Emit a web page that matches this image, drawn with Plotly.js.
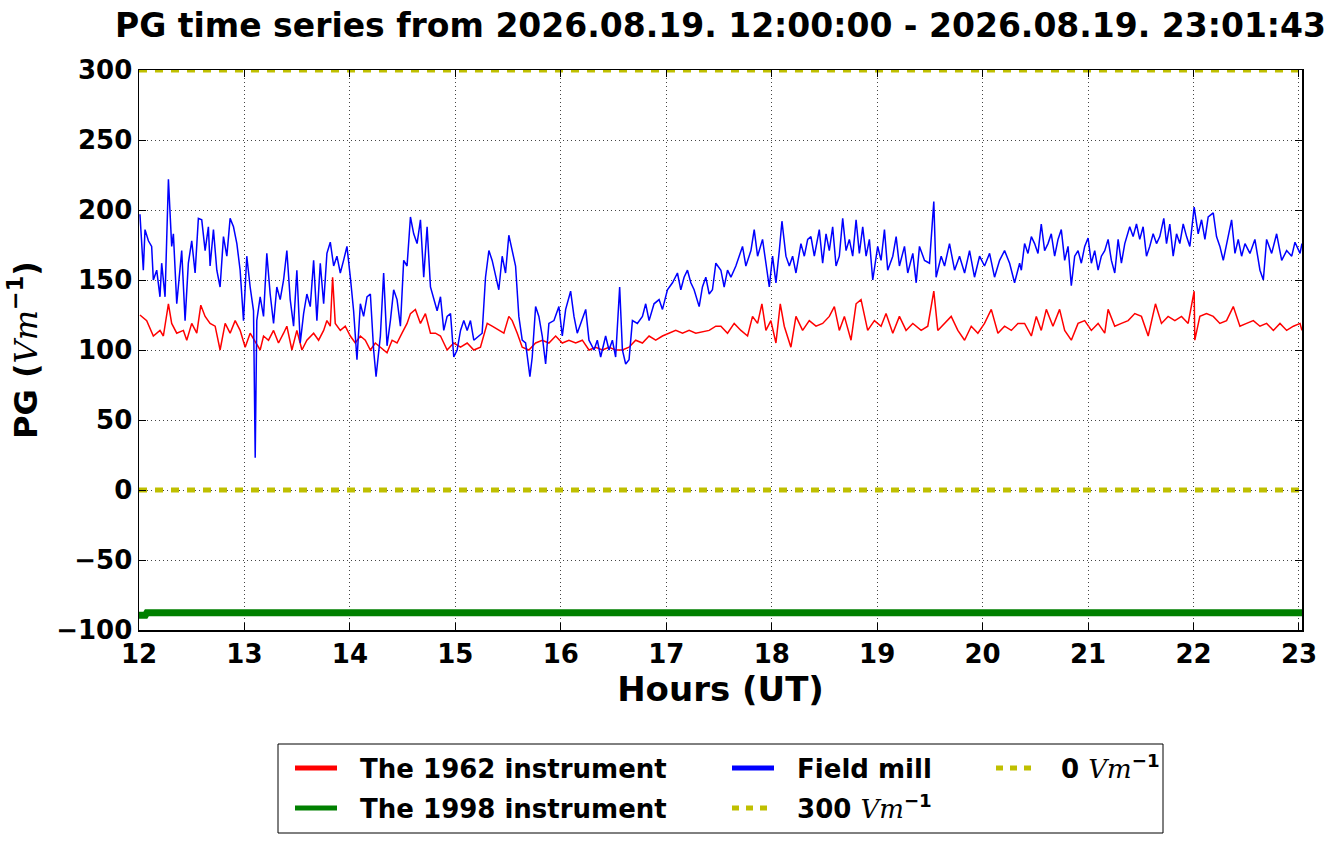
<!DOCTYPE html>
<html>
<head>
<meta charset="utf-8">
<script src="https://cdn.plot.ly/plotly-3.0.1.min.js"></script>
<style>html,body{margin:0;padding:0;background:#fff;}</style>
</head>
<body>
<div id="chart" style="width:1341px;height:844px;"></div>
<script>
// ---- data (hours UT, PG in V/m) ----
var fieldMill = [
[12.009,197],[12.041,157],[12.057,186],[12.089,178],[12.120,174],[12.136,150],[12.168,157],[12.199,138],[12.215,162],[12.247,138],
[12.279,222],[12.310,174],[12.326,183],[12.358,133],[12.405,171],[12.437,121],[12.468,162],[12.500,178],[12.532,155],[12.563,194],
[12.595,193],[12.627,171],[12.658,188],[12.674,160],[12.706,186],[12.738,157],[12.769,145],[12.801,181],[12.833,167],[12.864,194],
[12.896,188],[12.928,176],[12.959,157],[12.991,121],[13.022,167],[13.054,145],[13.086,128],[13.102,23],[13.117,121],[13.149,138],
[13.181,124],[13.212,169],[13.244,140],[13.276,119],[13.307,145],[13.339,136],[13.371,150],[13.402,171],[13.434,136],[13.466,117],
[13.497,157],[13.529,105],[13.561,126],[13.592,140],[13.624,131],[13.656,164],[13.687,121],[13.719,162],[13.751,133],[13.782,169],
[13.814,177],[13.846,160],[13.877,167],[13.909,155],[13.940,164],[13.972,174],[14.004,152],[14.035,128],[14.067,93],[14.099,133],
[14.130,124],[14.162,138],[14.194,140],[14.225,100],[14.248,81],[14.289,110],[14.320,155],[14.352,103],[14.384,121],[14.415,143],
[14.447,136],[14.479,117],[14.510,164],[14.542,160],[14.574,195],[14.605,183],[14.637,176],[14.669,193],[14.700,152],[14.732,188],
[14.764,145],[14.795,136],[14.827,128],[14.859,138],[14.890,114],[14.922,124],[14.954,126],[14.985,95],[15.017,100],[15.049,114],
[15.080,121],[15.112,114],[15.143,121],[15.175,107],[15.223,110],[15.254,112],[15.286,152],[15.318,171],[15.349,164],[15.381,152],
[15.412,143],[15.444,167],[15.476,155],[15.507,182],[15.539,171],[15.571,160],[15.602,124],[15.634,107],[15.666,105],[15.707,81],
[15.729,95],[15.761,131],[15.792,124],[15.824,110],[15.856,90],[15.887,119],[15.935,121],[15.982,131],[16.014,110],[16.046,129],
[16.093,142],[16.125,124],[16.156,112],[16.188,119],[16.236,129],[16.267,107],[16.315,100],[16.346,107],[16.378,95],[16.425,110],
[16.457,100],[16.489,107],[16.520,95],[16.558,145],[16.584,100],[16.615,90],[16.647,93],[16.679,121],[16.726,119],[16.774,124],
[16.805,133],[16.837,121],[16.884,133],[16.932,136],[16.964,129],[17.011,143],[17.059,148],[17.106,155],[17.138,143],[17.169,152],
[17.201,157],[17.233,148],[17.264,143],[17.312,131],[17.343,145],[17.375,152],[17.407,140],[17.438,143],[17.470,162],[17.518,157],
[17.549,145],[17.581,157],[17.613,152],[17.660,160],[17.692,167],[17.723,174],[17.755,160],[17.803,171],[17.834,186],[17.866,167],
[17.913,179],[17.945,160],[17.977,145],[18.008,167],[18.040,148],[18.072,171],[18.097,192],[18.135,167],[18.167,160],[18.198,167],
[18.230,155],[18.277,176],[18.309,167],[18.341,179],[18.372,181],[18.404,167],[18.451,186],[18.483,162],[18.515,183],[18.546,171],
[18.578,188],[18.610,160],[18.641,167],[18.673,194],[18.705,171],[18.736,179],[18.768,167],[18.800,193],[18.831,169],[18.863,188],
[18.895,167],[18.926,179],[18.958,150],[19.005,174],[19.037,164],[19.069,186],[19.100,157],[19.148,167],[19.180,181],[19.211,160],
[19.259,174],[19.290,155],[19.338,169],[19.370,148],[19.401,174],[19.449,164],[19.496,162],[19.537,206],[19.559,152],[19.607,167],
[19.639,160],[19.686,176],[19.734,157],[19.781,167],[19.829,155],[19.876,171],[19.923,152],[19.971,167],[20.018,160],[20.066,169],
[20.113,152],[20.161,164],[20.208,171],[20.256,162],[20.303,148],[20.351,162],[20.367,157],[20.398,176],[20.430,169],[20.462,181],
[20.493,176],[20.525,169],[20.556,190],[20.588,171],[20.620,176],[20.651,183],[20.683,167],[20.715,179],[20.746,186],[20.778,164],
[20.810,174],[20.841,146],[20.873,167],[20.905,171],[20.936,162],[20.968,174],[21.000,180],[21.031,162],[21.063,171],[21.095,157],
[21.126,167],[21.158,171],[21.190,179],[21.221,164],[21.253,155],[21.285,179],[21.316,162],[21.348,176],[21.395,188],[21.427,181],
[21.459,190],[21.490,179],[21.522,188],[21.554,167],[21.585,174],[21.617,183],[21.649,176],[21.680,181],[21.718,194],[21.744,176],
[21.775,190],[21.807,167],[21.839,183],[21.870,176],[21.902,190],[21.934,181],[21.965,174],[22.006,202],[22.044,183],[22.076,193],
[22.108,179],[22.139,195],[22.187,198],[22.218,181],[22.250,174],[22.282,164],[22.313,176],[22.361,193],[22.393,169],[22.424,179],
[22.456,167],[22.488,176],[22.535,169],[22.582,179],[22.630,157],[22.662,150],[22.693,179],[22.741,169],[22.788,183],[22.836,164],
[22.883,171],[22.931,167],[22.962,177],[23.010,169],[23.028,176]
];

var instr1962 = [
[12.009,125],[12.073,121],[12.136,110],[12.199,114],[12.231,110],[12.279,133],[12.310,119],[12.358,112],[12.421,114],[12.453,107],
[12.500,119],[12.548,112],[12.586,132],[12.627,124],[12.674,119],[12.722,117],[12.769,100],[12.817,119],[12.864,112],[12.912,121],
[12.959,114],[13.007,102],[13.054,112],[13.102,106],[13.149,100],[13.181,110],[13.228,107],[13.276,114],[13.323,105],[13.371,112],
[13.402,117],[13.450,100],[13.497,114],[13.545,100],[13.592,107],[13.656,112],[13.703,107],[13.751,114],[13.782,121],[13.814,117],
[13.836,152],[13.861,119],[13.909,114],[13.956,117],[14.004,110],[14.051,105],[14.099,110],[14.146,107],[14.194,100],[14.241,105],
[14.289,102],[14.352,98],[14.400,107],[14.447,105],[14.494,112],[14.542,119],[14.574,126],[14.621,129],[14.669,119],[14.716,126],
[14.764,112],[14.811,112],[14.859,110],[14.922,100],[14.985,105],[15.049,102],[15.112,105],[15.175,100],[15.238,102],[15.302,119],
[15.349,117],[15.412,114],[15.460,112],[15.507,124],[15.539,121],[15.587,112],[15.634,102],[15.697,100],[15.761,105],[15.824,107],
[15.887,105],[15.951,110],[16.014,105],[16.077,107],[16.141,105],[16.204,107],[16.267,100],[16.331,102],[16.394,100],[16.457,102],
[16.520,100],[16.584,100],[16.647,102],[16.710,107],[16.774,105],[16.837,110],[16.900,107],[16.964,110],[17.027,112],[17.090,114],
[17.154,112],[17.217,114],[17.280,112],[17.343,113],[17.407,114],[17.470,117],[17.518,117],[17.581,112],[17.644,119],[17.708,114],
[17.771,110],[17.818,124],[17.866,119],[17.907,133],[17.945,114],[17.992,121],[18.040,105],[18.081,133],[18.119,117],[18.182,102],
[18.230,124],[18.293,114],[18.356,121],[18.420,117],[18.483,119],[18.546,124],[18.594,131],[18.641,114],[18.689,124],[18.752,107],
[18.800,133],[18.847,136],[18.910,114],[18.974,121],[19.037,117],[19.084,126],[19.148,112],[19.211,124],[19.274,114],[19.338,119],
[19.417,114],[19.480,117],[19.537,142],[19.575,114],[19.639,119],[19.702,124],[19.765,114],[19.829,107],[19.892,117],[19.955,112],
[20.018,119],[20.082,129],[20.145,112],[20.208,117],[20.272,114],[20.335,119],[20.398,119],[20.462,110],[20.509,124],[20.556,114],
[20.604,129],[20.667,117],[20.730,129],[20.778,114],[20.841,107],[20.905,119],[20.968,121],[21.031,114],[21.095,119],[21.158,112],
[21.190,129],[21.253,117],[21.316,119],[21.380,121],[21.443,126],[21.506,124],[21.570,110],[21.639,133],[21.696,119],[21.759,124],
[21.823,121],[21.886,124],[21.949,119],[22.006,142],[22.012,107],[22.060,124],[22.123,126],[22.187,124],[22.250,119],[22.313,121],
[22.377,131],[22.440,117],[22.503,119],[22.567,121],[22.630,117],[22.693,119],[22.757,114],[22.820,119],[22.883,114],[22.947,117],
[23.010,119],[23.028,114]
];

var instr1998Hours = [12.0, 12.06, 12.075, 23.03];
var instr1998Values = [-89.5, -89.5, -87.6, -87.6];

var refHours = [12.0, 23.03];
var ref300 = [300, 300];
var ref0 = [0, 0];

var xTicks = [12,13,14,15,16,17,18,19,20,21,22,23];
var yTicks = [-100,-50,0,50,100,150,200,250,300];
var xRange = [12.0, 23.0286];
var yRange = [-100, 300];

var VM = '<span style="font-family:DejaVu Serif;font-weight:normal;font-style:italic">Vm</span><sup>−1</sup>';
var PAD = '\u00a0\u00a0';
var legendNames = [PAD+'The 1962 instrument', PAD+'The 1998 instrument', PAD+'Field mill',
  PAD+'300 ' + VM, PAD+'0 ' + VM];

// ---- plot ----
var W = 1341, H = 844, mL = 139, mR = 39, mT = 70, mB = 214;
var pw = W - mL - mR, ph = H - mT - mB;
function px2paperX(x){ return (x - mL) / pw; }
function px2paperY(y){ return (H - mB - y) / ph; }

var YEL = '#bfbf00';
function col(a, i){ return a.map(function(p){ return p[i]; }); }

var traces = [
  {x: col(instr1962,0), y: col(instr1962,1), mode:'lines', line:{color:'#ff0000', width:1.5}, showlegend:false, hoverinfo:'skip'},
  {x: instr1998Hours, y: instr1998Values, mode:'lines', line:{color:'#008000', width:7}, showlegend:false, hoverinfo:'skip'},
  {x: col(fieldMill,0), y: col(fieldMill,1), mode:'lines', line:{color:'#0000ff', width:1.5}, showlegend:false, hoverinfo:'skip'},
  {x: refHours, y: ref300, mode:'lines', line:{color:YEL, width:5, dash:'8px,8px'}, showlegend:false, hoverinfo:'skip'},
  {x: refHours, y: ref0, mode:'lines', line:{color:YEL, width:5, dash:'8px,8px'}, showlegend:false, hoverinfo:'skip'}
];

var legColors = ['#ff0000','#008000','#0000ff',YEL,YEL];
var legDash = ['solid','solid','solid','7px,7px','7px,7px'];
var legIds = ['legend','legend2','legend3','legend4','legend5'];
var legPos = [[295,768],[295,808],[732,768],[732,808],[996,768]];
for (var i=0;i<5;i++){
  traces.push({x:[null], y:[null], mode:'lines', name: legendNames[i], legend: legIds[i],
    line:{color:legColors[i], width:5, dash:legDash[i]}, showlegend:true, hoverinfo:'skip'});
}

var baseFont = {family:'DejaVu Sans', size:26, color:'#000', weight:'bold'};

var layout = {
  width: W, height: H,
  margin: {l:mL, r:mR, t:mT, b:mB, pad:0},
  paper_bgcolor:'#fff', plot_bgcolor:'#fff',
  title: {text:'PG time series from 2026.08.19. 12:00:00 - 2026.08.19. 23:01:43',
    font:{family:'DejaVu Sans', size:33, color:'#000', weight:'bold'},
    x: 0.5, xref:'paper', xanchor:'center', y: 1 - 25/H, yref:'container', yanchor:'middle'},
  xaxis: {range: xRange, tickvals: xTicks, ticktext: xTicks.map(String), ticks:'inside', ticklen:7, tickwidth:1,
    tickcolor:'#000', mirror:'allticks', showline:true, linecolor:'#000', linewidth:1.5,
    showgrid:true, gridcolor:'#444', gridwidth:1, griddash:'1px,3px', zeroline:false,
    tickfont: baseFont, automargin:false,
    title:{text:'Hours (UT)', font:{family:'DejaVu Sans', size:34, color:'#000', weight:'bold'}, standoff:7}},
  yaxis: {range: yRange, tickvals: yTicks, ticks:'inside', ticklen:7, tickwidth:1,
    tickcolor:'#000', mirror:'allticks', showline:true, linecolor:'#000', linewidth:1.5,
    showgrid:true, gridcolor:'#444', gridwidth:1, griddash:'1px,3px', zeroline:false,
    tickfont: baseFont, automargin:false,
    title:{text:'PG (' + VM + ')',
      font:{family:'DejaVu Sans', size:32, color:'#000', weight:'bold'}, standoff:9}},
  shapes: [
    {type:'rect', xref:'paper', yref:'paper', x0:px2paperX(278), x1:px2paperX(1163), y0:px2paperY(833), y1:px2paperY(744),
     line:{color:'#000', width:1}, fillcolor:'rgba(0,0,0,0)', layer:'above'}
  ],
  showlegend: true
};
for (var j=0;j<5;j++){
  layout[legIds[j]] = {x: px2paperX(legPos[j][0]-5), y: px2paperY(legPos[j][1]), xref:'paper', yref:'paper',
    xanchor:'left', yanchor:'middle', orientation:'v', bgcolor:'rgba(0,0,0,0)', borderwidth:0,
    font:{family:'DejaVu Sans', size:26, color:'#000', weight:'bold'}, itemwidth:42, itemclick:false, itemdoubleclick:false};
}

Plotly.newPlot('chart', traces, layout, {displayModeBar:false, staticPlot:true});
</script>
</body>
</html>
